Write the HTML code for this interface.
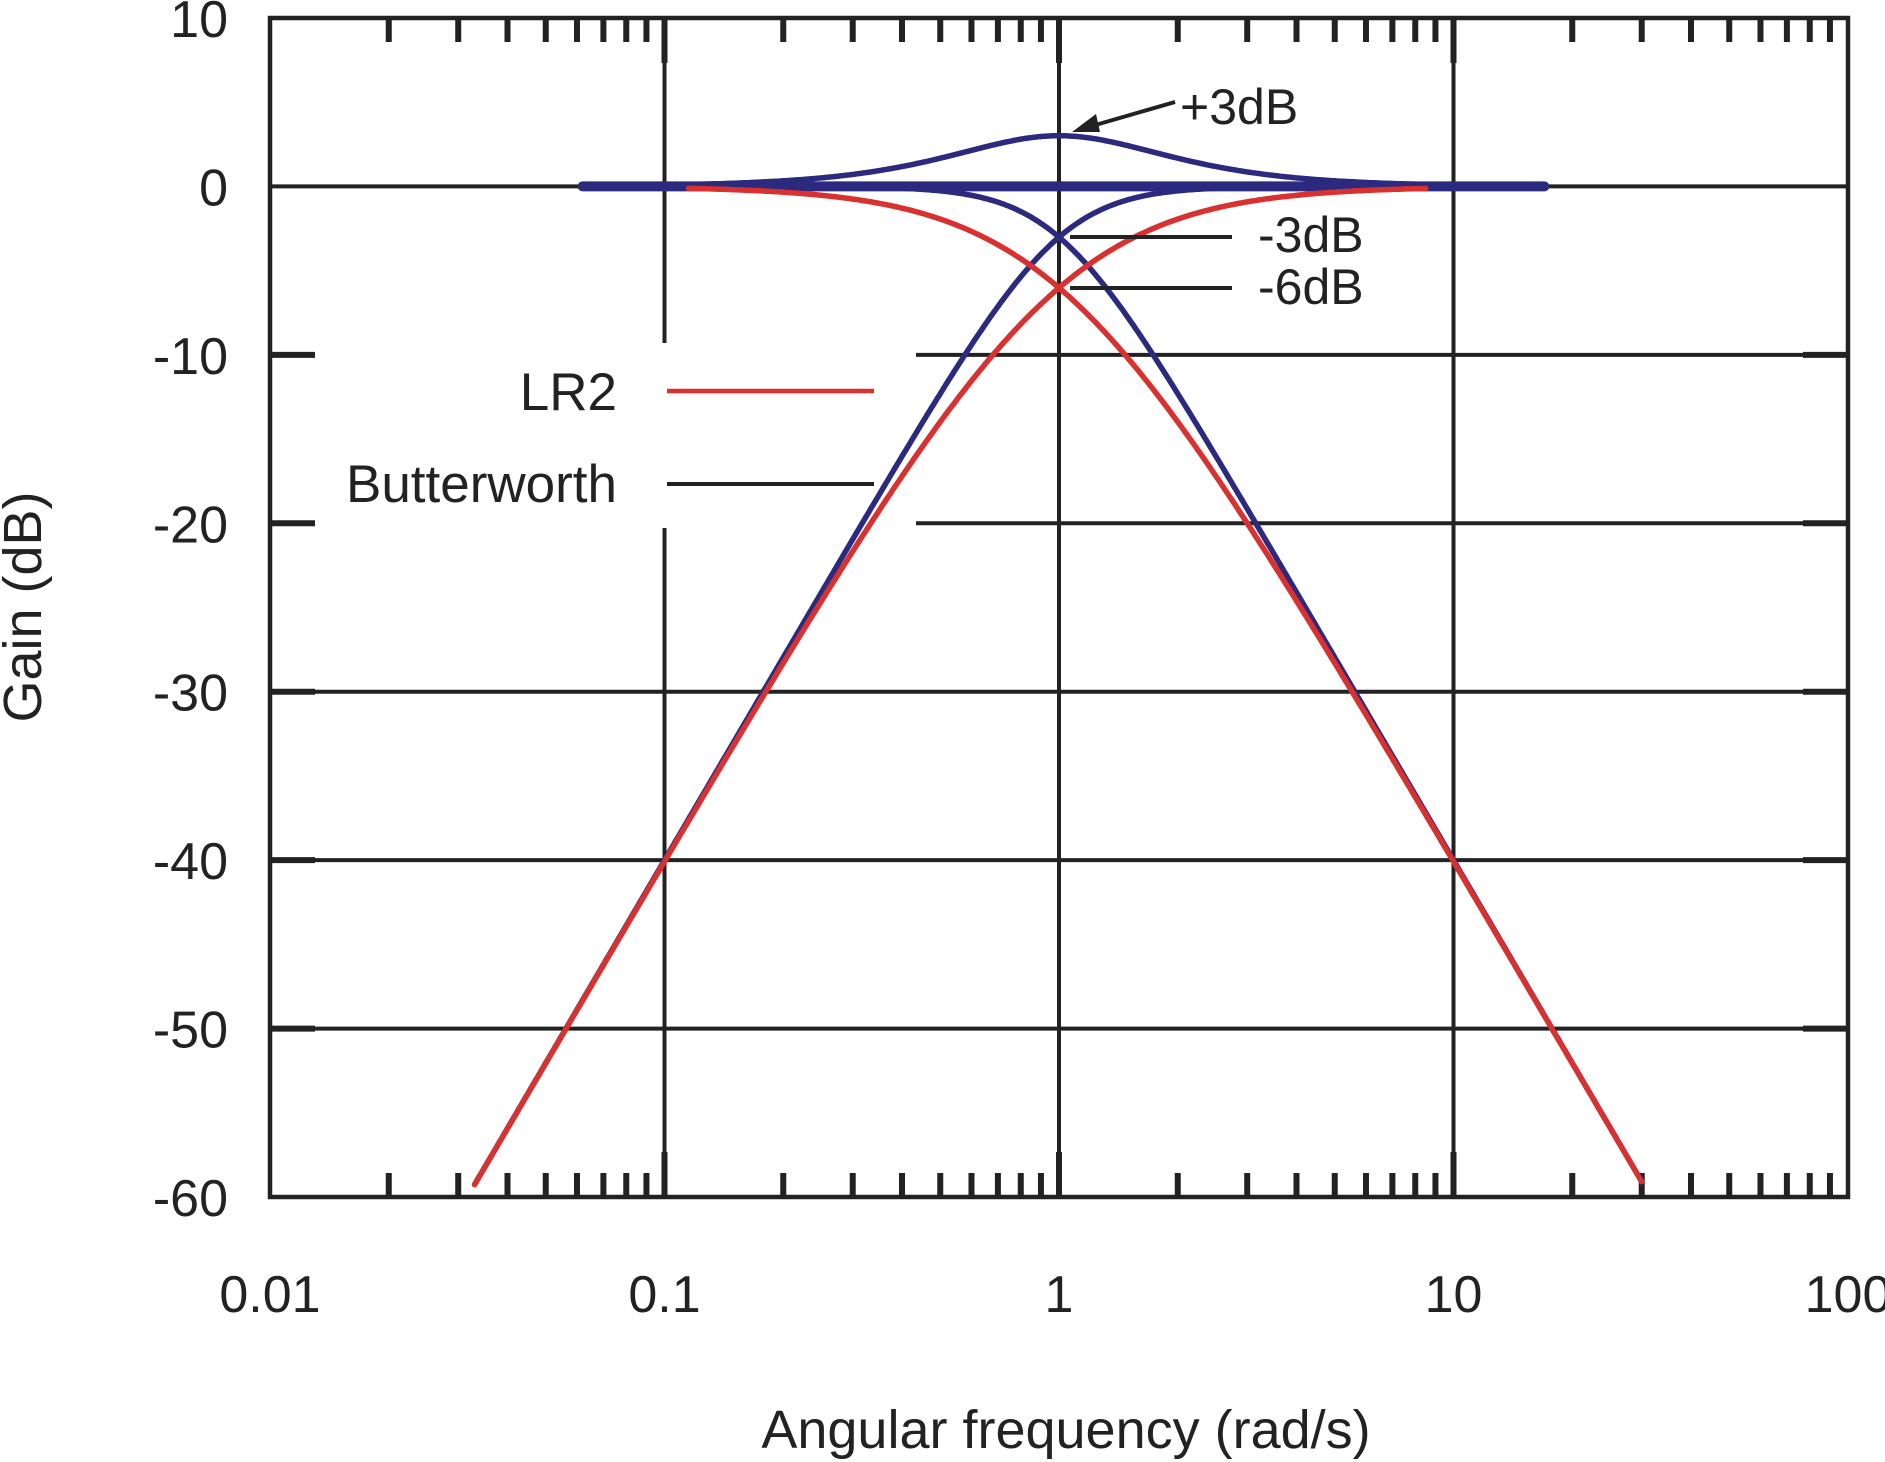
<!DOCTYPE html>
<html><head><meta charset="utf-8"><style>
html,body{margin:0;padding:0;background:#fff}
svg{display:block}
text{font-family:"Liberation Sans",Arial,sans-serif;fill:#222}
</style></head><body>
<svg id="s" width="1885" height="1462" viewBox="0 0 1885 1462" xmlns="http://www.w3.org/2000/svg">
<rect width="1885" height="1462" fill="#fff"/>
<g id="grid" stroke="#222" stroke-width="4" fill="none"></g>
<g id="curves" fill="none" stroke-linecap="round"></g>
<g id="ann" stroke="#222" stroke-width="4" fill="none">
<line x1="1070" y1="237" x2="1232" y2="237"/>
<line x1="1070" y1="288" x2="1232" y2="288"/>
<line x1="1175" y1="102" x2="1092" y2="126"/>
<line x1="667" y1="391" x2="874" y2="391" stroke="#d8312f" stroke-width="4.5"/>
<line x1="667" y1="484" x2="874" y2="484"/>
</g>
<polygon points="1072,132 1096,114 1100,132" fill="#222"/>
<g font-size="50">
<text x="1180" y="124">+3dB</text>
<text x="1258" y="252">-3dB</text>
<text x="1258" y="304">-6dB</text>
</g>
<g font-size="53">
<text x="617" y="410" text-anchor="end">LR2</text>
<text x="617" y="502" text-anchor="end">Butterworth</text>
</g>
<g font-size="52" text-anchor="end" id="ylab"></g>
<g font-size="52" text-anchor="middle" id="xlab"></g>
<text x="1066" y="1448" font-size="54" text-anchor="middle">Angular frequency (rad/s)</text>
<text transform="translate(41,607) rotate(-90)" font-size="54" text-anchor="middle">Gain (dB)</text>
</svg>
<script>
var L=270,R=1848,T=18,B=1197,dec=(R-L)/4,pd=(B-T)/70;
function X(w){return L+(Math.log10(w)+2)*dec}
function Y(d){return T+(10-d)*pd}
var ns="http://www.w3.org/2000/svg";
function el(p,t,a,txt){var e=document.createElementNS(ns,t);for(var k in a)e.setAttribute(k,a[k]);if(txt)e.textContent=txt;document.getElementById(p).appendChild(e);return e}
el('grid','rect',{x:L,y:T,width:R-L,height:B-T,'stroke-width':4.5});
[0,-30,-40,-50].forEach(function(d){el('grid','line',{x1:L,y1:Y(d),x2:R,y2:Y(d)})});
[-10,-20].forEach(function(d){el('grid','line',{x1:L,y1:Y(d),x2:L+45,y2:Y(d),'stroke-width':6});el('grid','line',{x1:916,y1:Y(d),x2:R,y2:Y(d)})});
[-10,-20,-30,-40,-50].forEach(function(d){el('grid','line',{x1:R-45,y1:Y(d),x2:R,y2:Y(d),'stroke-width':6})});
[-30,-40,-50].forEach(function(d){el('grid','line',{x1:L,y1:Y(d),x2:L+45,y2:Y(d),'stroke-width':6})});
el('grid','line',{x1:X(0.1),y1:T,x2:X(0.1),y2:343});
el('grid','line',{x1:X(0.1),y1:528,x2:X(0.1),y2:B});
el('grid','line',{x1:X(1),y1:T,x2:X(1),y2:B});
el('grid','line',{x1:X(10),y1:T,x2:X(10),y2:B});
[0.1,1,10].forEach(function(w){el('grid','line',{x1:X(w),y1:T,x2:X(w),y2:T+45,'stroke-width':6});el('grid','line',{x1:X(w),y1:B,x2:X(w),y2:B-45,'stroke-width':6})});
for(var e=-2;e<2;e++)for(var m=2;m<10;m++){var x=X(m*Math.pow(10,e));
el('grid','line',{x1:x,y1:T,x2:x,y2:T+24,'stroke-width':6});el('grid','line',{x1:x,y1:B,x2:x,y2:B-24,'stroke-width':6});}
for(var d=10;d>=-60;d-=10)el('ylab','text',{x:228,y:Y(d)+19},String(d));
['0.01','0.1','1','10','100'].forEach(function(t,i){el('xlab','text',{x:L+i*dec,y:1312},t)});
function path(f,a,b,col,w){var s='';for(var i=0;i<=400;i++){var lw=Math.log10(a)+(Math.log10(b)-Math.log10(a))*i/400,ww=Math.pow(10,lw);s+=(i?'L':'M')+X(ww).toFixed(1)+','+Y(f(ww)).toFixed(1)}
el('curves','path',{d:s,stroke:col,'stroke-width':w})}
var blue='#2b2a7e',red='#d8312f';
path(function(w){return 0},0.062,17,blue,10);
path(function(w){return 20*Math.log10((1+w*w)/Math.sqrt(1+Math.pow(w,4)))},0.1,10,blue,5.5);
path(function(w){return -10*Math.log10(1+Math.pow(w,4))},0.1,30,blue,5.5);
path(function(w){return -10*Math.log10(1+Math.pow(w,-4))},0.033,10,blue,5.5);
path(function(w){return -20*Math.log10(1+w*w)},0.115,30,red,5.5);
path(function(w){return -20*Math.log10(1+1/(w*w))},0.033,8.5,red,5.5);
</script>
</body></html>
